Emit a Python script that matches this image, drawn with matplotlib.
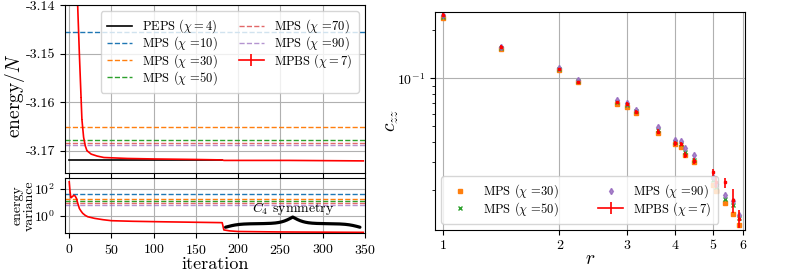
import numpy as np
import matplotlib
matplotlib.use('Agg')
import matplotlib.pyplot as plt
import matplotlib.transforms as mtransforms
from matplotlib.ticker import (FixedLocator, FuncFormatter, NullLocator,
                               LogFormatterMathtext, NullFormatter, LogLocator)

plt.rcParams.update({
    'font.family': 'serif', 'font.serif': ['cmr10'], 'mathtext.fontset': 'cm',
    'axes.unicode_minus': False, 'axes.formatter.use_mathtext': True,
    'font.size': 10,
})

# ---------------- data ----------------
mps_chi = [10, 30, 50, 70, 90]
mps_energy = [-3.1454, -3.1652, -3.1678, -3.1685, -3.1689]
mps_variance = [40, 17, 12, 9, 6.6]

peps_energy = -3.17195
peps_iter = [0, 181]

mpbs_iter_E = [5, 8, 10, 12, 14, 15, 17, 19, 21, 26, 33, 41, 69, 100, 147, 181, 183, 260, 348]
mpbs_energy = [-3.10, -3.125, -3.14, -3.150, -3.159, -3.1635, -3.1672, -3.1690, -3.1700,
               -3.1707, -3.1711, -3.1714, -3.1716, -3.1717, -3.1718, -3.1719, -3.1720,
               -3.1720, -3.1721]
mpbs_energy_err = [0.00005] * len(mpbs_energy)

mpbs_iter_V = [0, 1, 2, 4, 5.5, 7, 8.5, 10, 12, 14, 16, 19, 22, 30, 40, 50, 75, 108,
               150, 181, 183, 190, 200, 250, 300, 348]
mpbs_variance = [350, 60, 22, 28, 34, 30, 20, 9, 3.5, 2.2, 1.5, 1.05, 0.83, 0.63, 0.5,
                 0.42, 0.38, 0.35, 0.32, 0.30, 0.085, 0.072, 0.065, 0.060, 0.058, 0.056]

c4_start, c4_end = 185, 344

r_values = [1.0, 1.414, 2.0, 2.236, 2.828, 3.0, 3.162, 3.606, 4.0, 4.123, 4.243,
            4.472, 5.0, 5.099, 5.385, 5.657, 5.831]
czz_mps30 = [0.237, 0.152, 0.113, 0.0945, 0.0691, 0.0659, 0.0604, 0.0453, 0.0387, 0.0371,
             0.0333, 0.0298, 0.0215, 0.0198, 0.01655, 0.0143, 0.0121]
czz_mps50 = [0.242, 0.155, 0.114, 0.096, 0.0712, 0.068, 0.062, 0.0475, 0.0398, 0.0388,
             0.0345, 0.031, 0.0231, 0.0210, 0.01755, 0.0162, 0.0134]
czz_mps90 = [0.248, 0.157, 0.115, 0.0976, 0.0731, 0.0704, 0.0634, 0.0498, 0.0411, 0.0405,
             0.0365, 0.0332, 0.0241, 0.0218, 0.0187, 0.0171, 0.0140]
czz_mpbs = [0.249, 0.1575, 0.1144, 0.0952, 0.0708, 0.0691, 0.0618, 0.0464, 0.0392, 0.0389,
            0.0332, 0.0305, 0.0259, 0.0226, 0.0224, 0.0174, 0.0133]
czz_mpbs_err = [0.005, 0.003, 0.002, 0.0015, 0.0015, 0.0015, 0.0012, 0.0015, 0.0013, 0.0012,
                0.0015, 0.0012, 0.0014, 0.0018, 0.0016, 0.003, 0.0017]

# ---------------- styles ----------------
mps_colors = ['tab:blue', 'tab:orange', 'tab:green', 'tab:red', 'tab:purple']
mps_alpha = [1, 1, 1, 0.7, 0.7]

W, H = 789, 271
fig = plt.figure(figsize=(W / 100, H / 100), dpi=100)
ax1 = fig.add_axes([65 / W, 1 - 173 / H, 300 / W, 168 / H])
ax2 = fig.add_axes([65 / W, 1 - 233 / H, 300 / W, 55 / H], sharex=ax1)
ax3 = fig.add_axes([435 / W, 1 - 230 / H, 310 / W, 218.3 / H])

# ---- top left: energy ----
ax1.plot(peps_iter, [peps_energy] * 2, color='black', lw=1.2, label=r'PEPS ($\chi = 4$)')
for chi, e, c, a in zip(mps_chi, mps_energy, mps_colors, mps_alpha):
    ax1.axhline(e, color=c, ls='--', lw=1.0, alpha=a, label=r'MPS ($\chi$ =%d)' % chi)
eb = ax1.errorbar(mpbs_iter_E, mpbs_energy, yerr=mpbs_energy_err, color='red', lw=1.2,
                  label=r'MPBS ($\chi = 7$)')
ax1.set_xlim(-5, 350)
ax1.set_ylim(-3.1746, -3.1399)
ax1.yaxis.set_major_locator(FixedLocator([-3.17, -3.16, -3.15, -3.14]))
ax1.yaxis.set_major_formatter(FuncFormatter(lambda v, p: '%.2f' % v))
ax1.xaxis.set_major_locator(FixedLocator(np.arange(0, 351, 50)))
plt.setp(ax1.get_xticklabels(), visible=False)
ax1.grid(True)
ax1.set_ylabel(r'energy/$N$', fontsize=14)
ax1.yaxis.set_label_coords(-0.125, 0.46)
ax1.legend(ncol=2, loc='upper right', fontsize=9, handlelength=2.0, columnspacing=1.7,
           labelspacing=-0.05, borderpad=0.5)

# ---- bottom left: variance ----
for v, c, a in zip(mps_variance, mps_colors, mps_alpha):
    ax2.axhline(v, color=c, ls='--', lw=1.0, alpha=a)
ax2.plot(mpbs_iter_V, mpbs_variance, color='red', lw=1.2)
ax2.set_yscale('log')
ax2.set_ylim(10 ** -1.3, 10 ** 2.83)
ax2.yaxis.set_major_locator(FixedLocator([1, 100]))
ax2.yaxis.set_major_formatter(LogFormatterMathtext())
ax2.yaxis.set_minor_locator(NullLocator())
ax2.grid(True)
ax2.set_xlabel('iteration', fontsize=13, labelpad=0)
ax2.set_ylabel('energy\nvariance', fontsize=10, linespacing=0.95)
ax2.yaxis.set_label_coords(-0.098, 0.5)

# curly brace for C4 symmetry
trans = mtransforms.blended_transform_factory(ax2.transData, ax2.transAxes)
xs = np.linspace(c4_start, c4_end, 401)
xm = 0.5 * (c4_start + c4_end)
xh = np.where(xs <= xm, xs, 2 * xm - xs)
b1, b2, a_sh = 0.13, 0.14, 0.35
s1 = 1 / (1 + np.exp(-b1 * (xh - c4_start)))
s2 = 1 / (1 + np.exp(-b2 * (xh - xm)))
yb = 2 * a_sh * (s1 - 0.5) + 2 * (1 - a_sh) * s2
y_end, y_tip = 0.105, 0.29
ax2.plot(xs, y_end + (y_tip - y_end) * yb, color='black', lw=2.3, transform=trans,
         solid_capstyle='round')
ax2.text(xm, 0.45, r'$C_4$ symmetry', transform=trans, ha='center', va='center', fontsize=10)

# ---- right: correlations ----
ax3.plot(r_values, czz_mps30, ls='none', marker='s', ms=3.2, color='tab:orange',
         label=r'MPS ($\chi$ =30)')
ax3.plot(r_values, czz_mps50, ls='none', marker='x', ms=3.2, mew=1, color='tab:green',
         label=r'MPS ($\chi$ =50)')
ax3.plot(r_values, czz_mps90, ls='none', marker='d', ms=3.2, color='tab:purple', alpha=0.8,
         label=r'MPS ($\chi$ =90)')
ax3.errorbar(r_values, czz_mpbs, yerr=czz_mpbs_err, fmt='s', ms=1.8, color='red', lw=1.2)
ax3.set_xscale('log')
ax3.set_yscale('log')
ax3.set_xlim(0.951, 6.06)
ax3.set_ylim(0.0113, 0.26)
ax3.xaxis.set_major_locator(FixedLocator([1, 2, 3, 4, 5, 6]))
ax3.xaxis.set_major_formatter(FuncFormatter(lambda v, p: '%d' % round(v)))
ax3.xaxis.set_minor_locator(NullLocator())
ax3.yaxis.set_major_locator(FixedLocator([0.1]))
ax3.yaxis.set_major_formatter(LogFormatterMathtext())
ax3.yaxis.set_minor_locator(LogLocator(base=10, subs=np.arange(2, 10)))
ax3.yaxis.set_minor_formatter(NullFormatter())
ax3.grid(True, which='major')
ax3.set_xlabel(r'$r$', fontsize=14, labelpad=-1)
ax3.set_ylabel(r'$c_{zz}$', fontsize=14)
ax3.yaxis.set_label_coords(-0.11, 0.5)
h, l = ax3.get_legend_handles_labels()
ax3.legend(h + [eb], l + [r'MPBS ($\chi = 7$)'], ncol=2, loc='lower left', fontsize=9,
           handlelength=2.0, columnspacing=3.2, labelspacing=-0.05, borderpad=0.5)

fig.savefig('out.png', dpi=100)
